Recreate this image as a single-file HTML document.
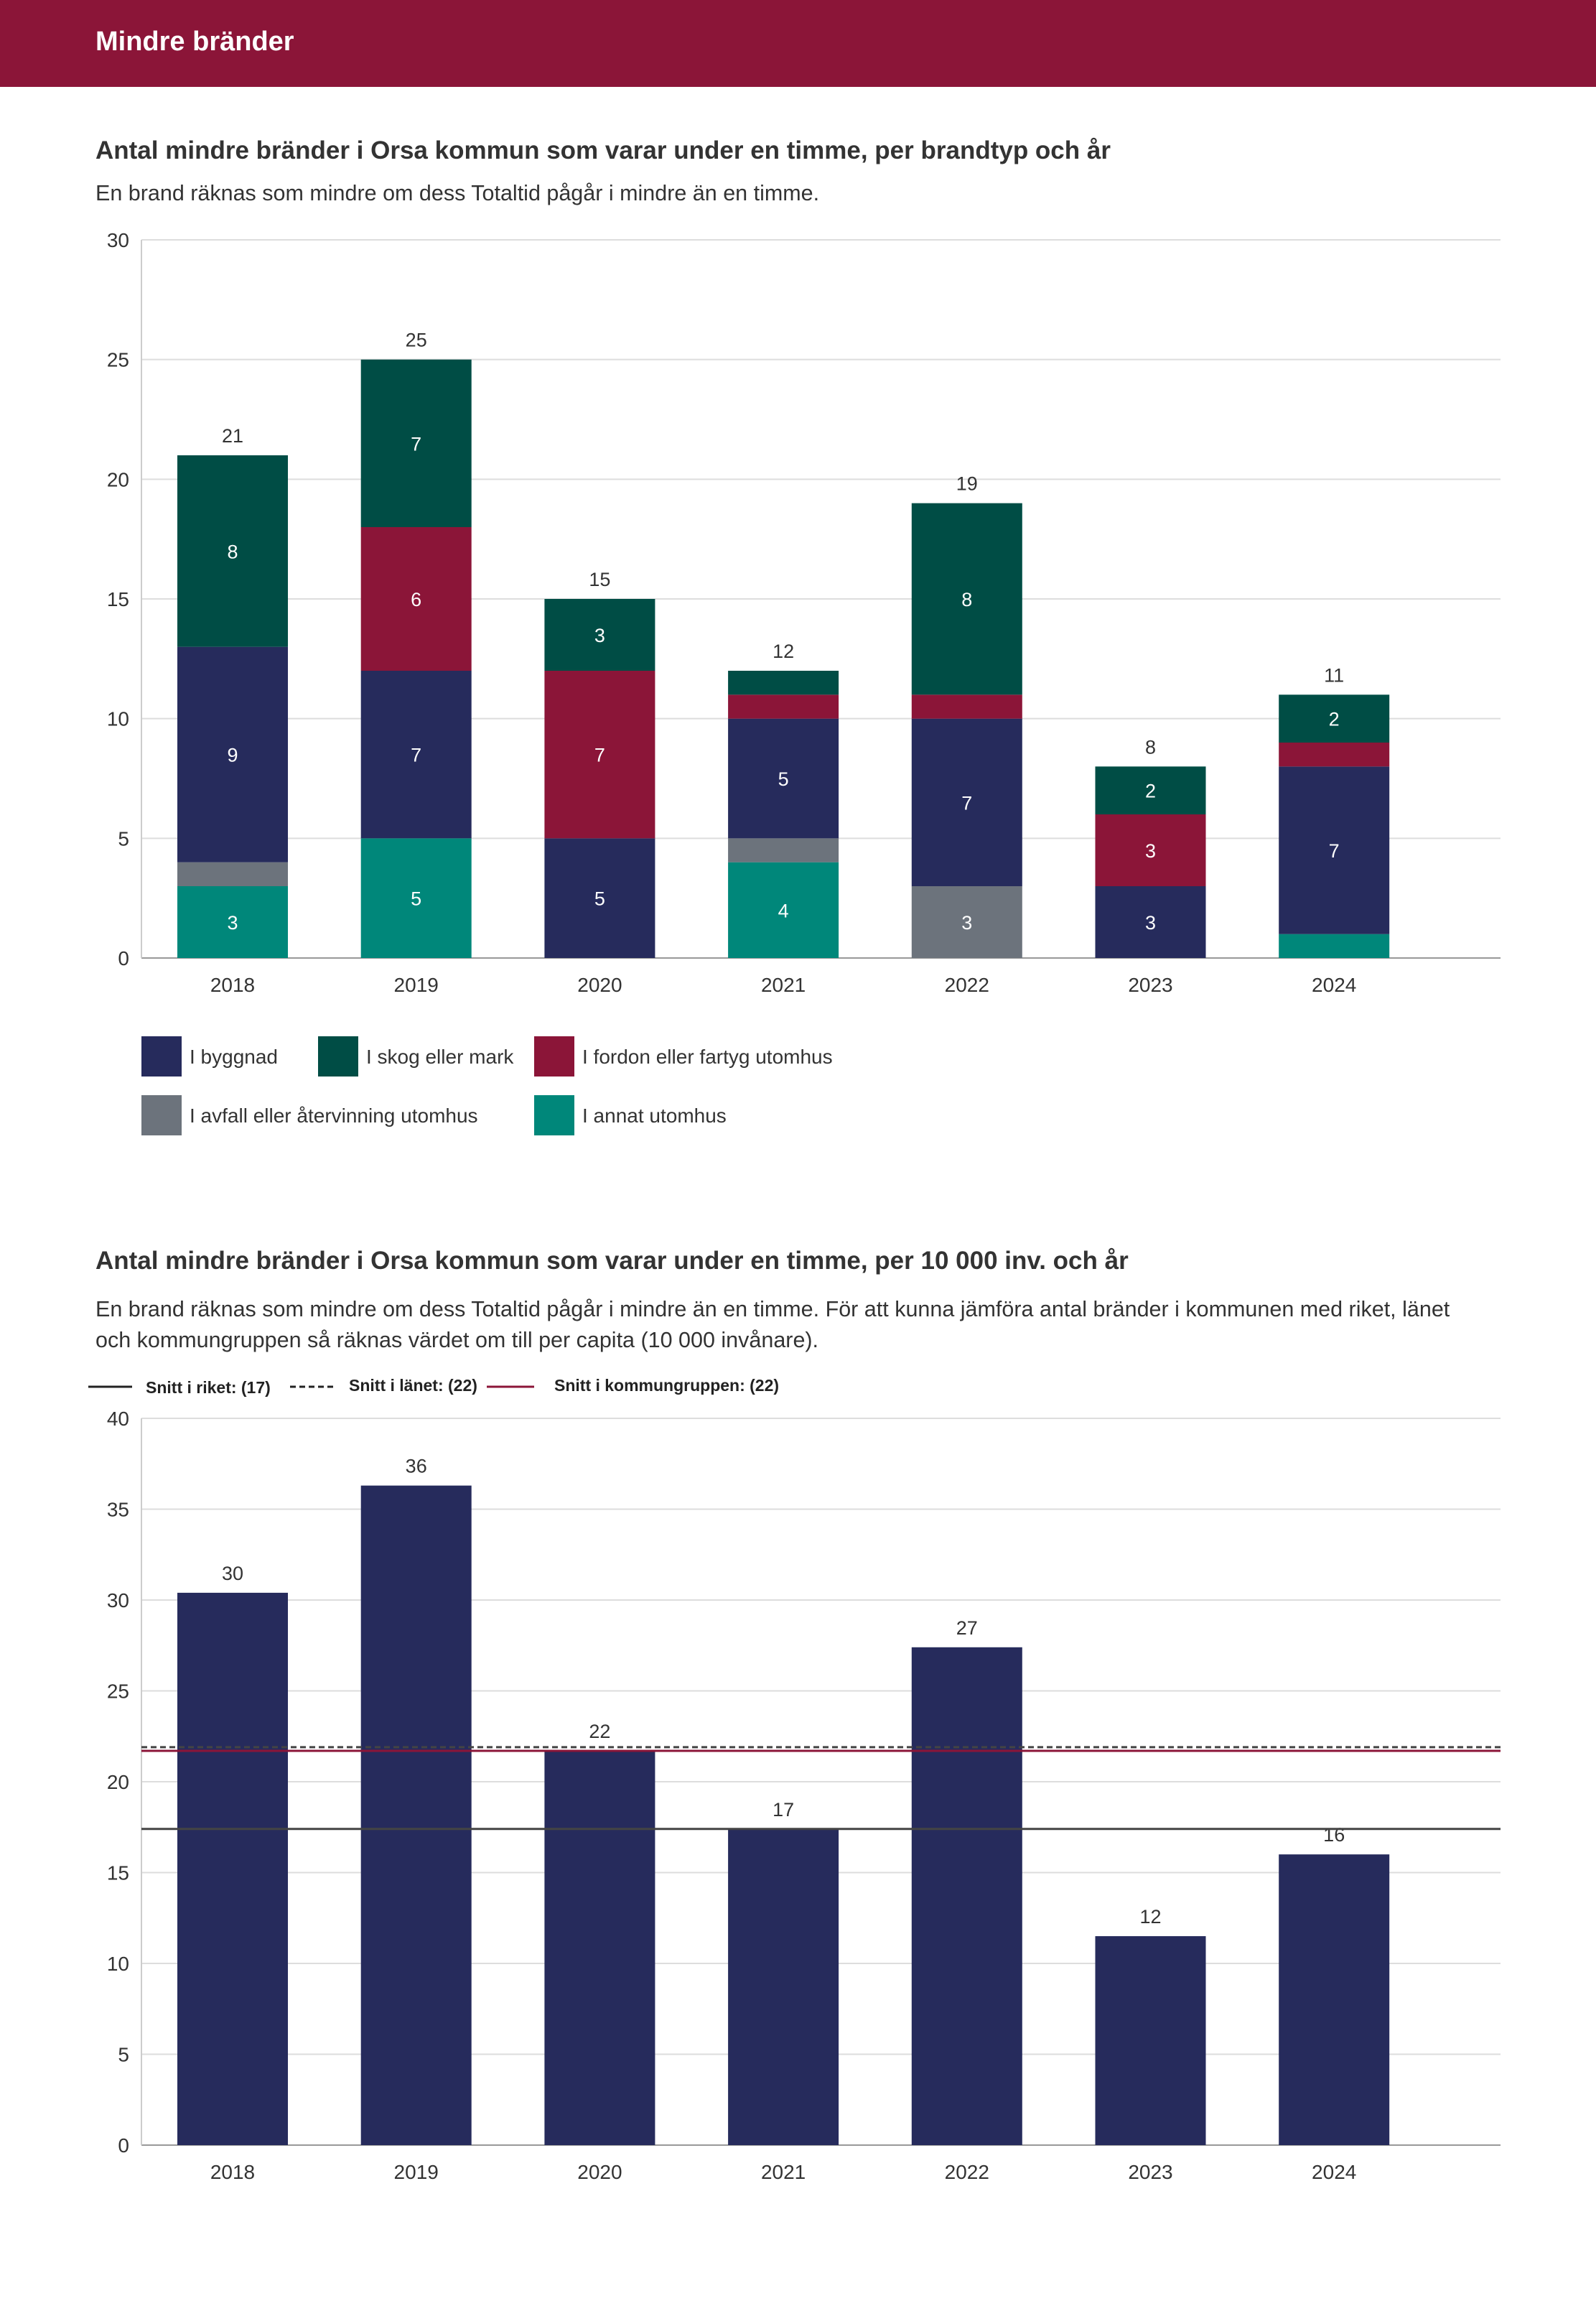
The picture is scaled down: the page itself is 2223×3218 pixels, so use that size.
<!DOCTYPE html>
<html><head><meta charset="utf-8"><style>
body{margin:0;background:#fff;width:2223px;height:3213px;overflow:hidden;font-family:"Liberation Sans",sans-serif}
</style></head><body>
<svg width="2223" height="3213" xmlns="http://www.w3.org/2000/svg" font-family="Liberation Sans, sans-serif">
<rect x="0" y="0" width="2223" height="121" fill="#8b1538"/>
<text x="133" y="70" font-size="38" font-weight="bold" fill="#fff">Mindre bränder</text>
<text x="133" y="221" font-size="35" font-weight="bold" fill="#333">Antal mindre bränder i Orsa kommun som varar under en timme, per brandtyp och år</text>
<text x="133" y="279" font-size="30.5" fill="#333">En brand räknas som mindre om dess Totaltid pågår i mindre än en timme.</text>
<g id="c1"></g>
<g id="leg1"></g>
<text x="133" y="1767" font-size="35" font-weight="bold" fill="#333">Antal mindre bränder i Orsa kommun som varar under en timme, per 10 000 inv. och år</text>
<text x="133" y="1833" font-size="30.5" fill="#333">En brand räknas som mindre om dess Totaltid pågår i mindre än en timme. För att kunna jämföra antal bränder i kommunen med riket, länet</text>
<text x="133" y="1876" font-size="30.5" fill="#333">och kommungruppen så räknas värdet om till per capita (10 000 invånare).</text>
<g>
<line x1="123" y1="1931" x2="184" y2="1931" stroke="#222" stroke-width="3"/>
<text x="203" y="1940" font-size="23" font-weight="bold" fill="#222">Snitt i riket: (17)</text>
<line x1="404" y1="1931" x2="465" y2="1931" stroke="#222" stroke-width="3" stroke-dasharray="8,5"/>
<text x="486" y="1937" font-size="23" font-weight="bold" fill="#222">Snitt i länet: (22)</text>
<line x1="678" y1="1931" x2="744" y2="1931" stroke="#8b1538" stroke-width="3"/>
<text x="772" y="1937" font-size="23" font-weight="bold" fill="#222">Snitt i kommungruppen: (22)</text>
</g>
<g id="c2"></g>
</svg>
<script>
const years = ["2018","2019","2020","2021","2022","2023","2024"];
const annat = [3,5,0,4,0,0,1];
const avfall = [1,0,0,1,3,0,0];
const byggnad = [9,7,5,5,7,3,7];
const fordon = [0,6,7,1,1,3,1];
const skog = [8,7,3,1,8,2,2];
const ticks1 = [0,5,10,15,20,25,30];
const perCapita = [30.4,36.3,21.7,17.4,27.4,11.5,16.0];
const ticks2 = [0,5,10,15,20,25,30,35,40];
const avgRiket = 17.4, avgLanet = 21.9, avgGrupp = 21.7;

const NS="http://www.w3.org/2000/svg";
function mk(p,t,a){const e=document.createElementNS(NS,t);for(const k in a)e.setAttribute(k,a[k]);p.appendChild(e);return e;}
const xC = i => 324 + i*255.7, BW = 154;

// Chart 1
const c1=document.getElementById('c1');
const y1 = v => 1334 - v*(1000/30);
ticks1.forEach(t=>{
  const g=mk(c1,'line',{x1:197,x2:2090,y1:y1(t),y2:y1(t),stroke:t===0?'#999':'#ddd','stroke-width':2});
  
  
  const l=mk(c1,'text',{x:180,y:y1(t)+10,'font-size':28,fill:'#333','text-anchor':'end'});l.textContent=t;
  
  
});
const ax=mk(c1,'line',{x1:197,x2:197,y1:334,y2:1334,stroke:'#ccc','stroke-width':2});


const series=[[annat,'#00877a','annat'],[avfall,'#6c737c','avfall'],[byggnad,'#262b5c','byggnad'],[fordon,'#8b1538','fordon'],[skog,'#004d45','skog']];
years.forEach((yr,i)=>{
  let base=0;
  series.forEach(([arr,col,nm])=>{
    const v=arr[i]; if(!v) return;
    const r=mk(c1,'rect',{x:xC(i)-BW/2,y:y1(base+v),width:BW,height:y1(base)-y1(base+v),fill:col});
    
    
    if(v>=2){const t=mk(c1,'text',{x:xC(i),y:(y1(base)+y1(base+v))/2+10,'font-size':27,fill:'#fff','text-anchor':'middle'});t.textContent=v;
      
      }
    base+=v;
  });
  const tl=mk(c1,'text',{x:xC(i),y:y1(base)-18,'font-size':27,fill:'#333','text-anchor':'middle'});tl.textContent=base;
  
  
  const xl=mk(c1,'text',{x:xC(i),y:1381,'font-size':28,fill:'#333','text-anchor':'middle'});xl.textContent=yr;
  
  
});
// Legend 1
const leg=document.getElementById('leg1');
[[197,1443,'#262b5c','I byggnad'],[443,1443,'#004d45','I skog eller mark'],[744,1443,'#8b1538','I fordon eller fartyg utomhus'],[197,1525,'#6c737c','I avfall eller återvinning utomhus'],[744,1525,'#00877a','I annat utomhus']].forEach(([x,y,c,t])=>{
  const r=mk(leg,'rect',{x:x,y:y,width:56,height:56,fill:c});
  
  
  const tx=mk(leg,'text',{x:x+67,y:y+38,'font-size':28,fill:'#333'});tx.textContent=t;
  
  
});

// Chart 2
const c2=document.getElementById('c2');
const y2 = v => 2987 - v*(1012/40);
ticks2.forEach(t=>{
  const g=mk(c2,'line',{x1:197,x2:2090,y1:y2(t),y2:y2(t),stroke:t===0?'#999':'#ddd','stroke-width':2});
  
  
  const l=mk(c2,'text',{x:180,y:y2(t)+10,'font-size':28,fill:'#333','text-anchor':'end'});l.textContent=t;
  
  
});
const ax2=mk(c2,'line',{x1:197,x2:197,y1:1975,y2:2987,stroke:'#ccc','stroke-width':2});


years.forEach((yr,i)=>{
  const v=perCapita[i];
  const r=mk(c2,'rect',{x:xC(i)-BW/2,y:y2(v),width:BW,height:y2(0)-y2(v),fill:'#262b5c'});
  
  
  const tl=mk(c2,'text',{x:xC(i),y:y2(v)-18,'font-size':27,fill:'#333','text-anchor':'middle'});tl.textContent=Math.round(v);
  
  
  const xl=mk(c2,'text',{x:xC(i),y:3034,'font-size':28,fill:'#333','text-anchor':'middle'});xl.textContent=yr;
  
  
});
const lr=mk(c2,'line',{x1:197,x2:2090,y1:y2(avgRiket),y2:y2(avgRiket),stroke:'#444','stroke-width':3});


const ll=mk(c2,'line',{x1:197,x2:2090,y1:y2(avgLanet),y2:y2(avgLanet),stroke:'#444','stroke-width':3,'stroke-dasharray':'8,5'});


const lg=mk(c2,'line',{x1:197,x2:2090,y1:y2(avgGrupp),y2:y2(avgGrupp),stroke:'#8b1538','stroke-width':3});


</script>
</body></html>
